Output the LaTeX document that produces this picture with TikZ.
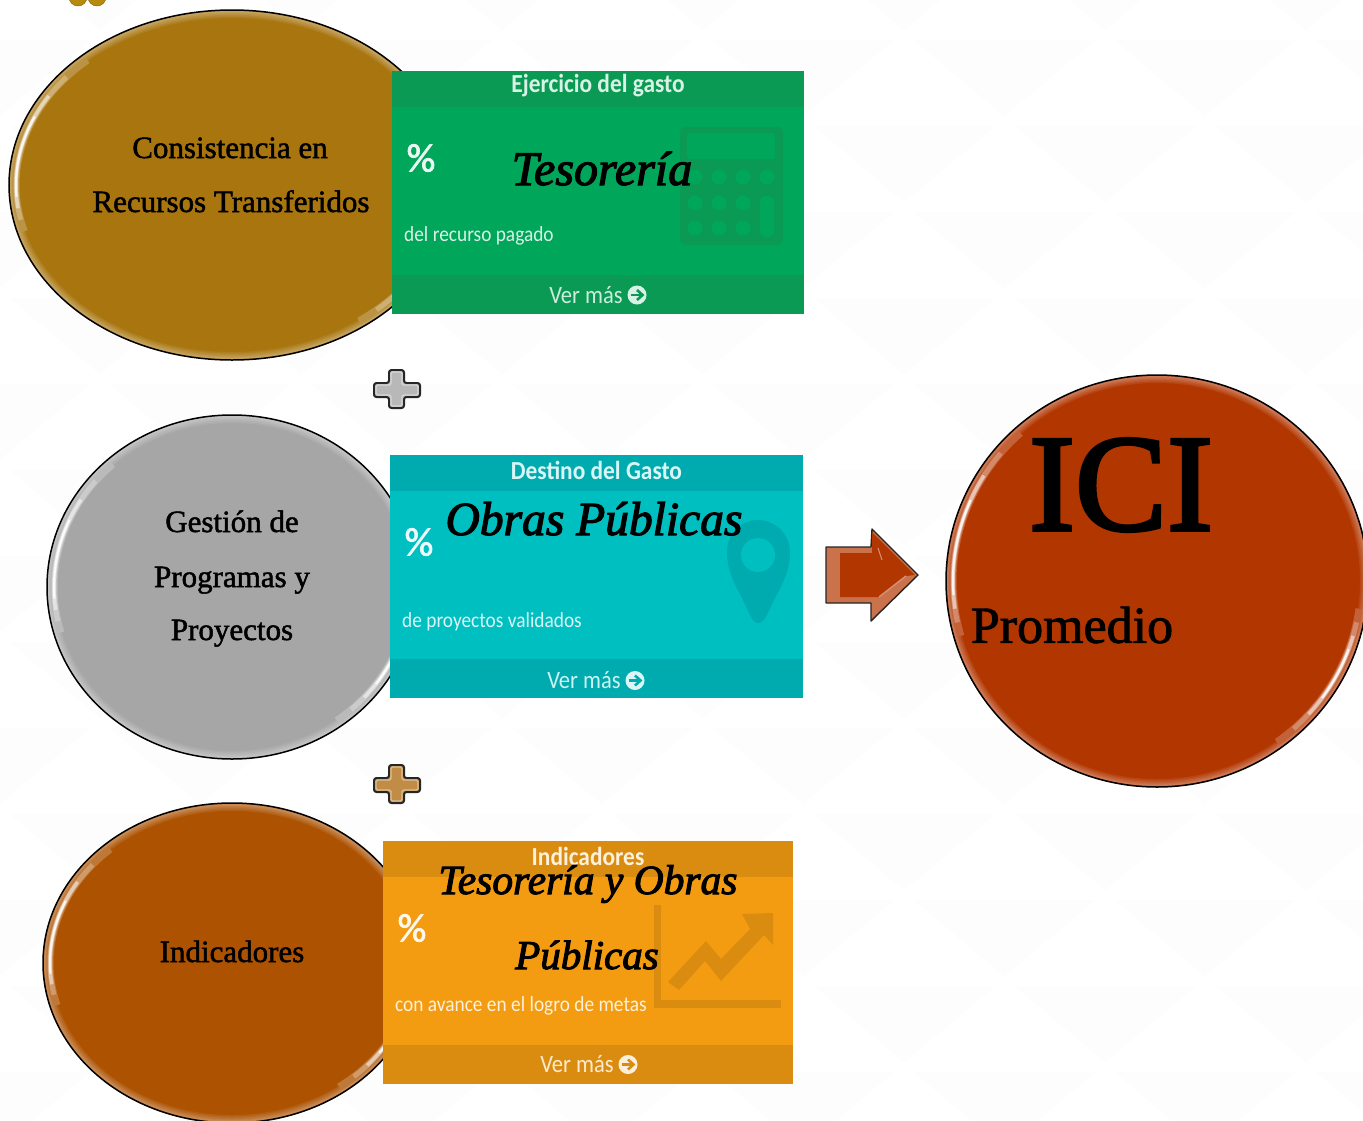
\documentclass[tikz,border=0pt]{standalone}
\usepackage{fontspec}
\setmainfont{Liberation Serif}
\newfontfamily\labelfont[FakeBold=1.6,ItalicFeatures={FakeBold=2.4}]{Liberation Serif}
\newfontfamily\bigfont[FakeBold=2.5]{Liberation Serif}
\newfontfamily\cardfont[FakeStretch=0.9]{Carlito}
\newfontfamily\percentfont[FakeBold=2]{Carlito}
\usetikzlibrary{shapes.geometric}
\definecolor{goldcoin}{HTML}{A8750F}
\definecolor{greycoin}{HTML}{A6A6A6}
\definecolor{browncoin}{HTML}{AC5200}
\definecolor{redcoin}{HTML}{B23600}
\definecolor{greenbody}{HTML}{00A65A}
\definecolor{greendark}{HTML}{0A9A53}
\definecolor{aquabody}{HTML}{00BFC0}
\definecolor{aquadark}{HTML}{00ABAF}
\definecolor{orangebody}{HTML}{F39C12}
\definecolor{orangedark}{HTML}{DA8C10}
\definecolor{backmark}{HTML}{FDFDFD}
\tikzset{
  coin/.style={ellipse, draw=black, line width=1.5pt, inner sep=0pt},
  coinlabel/.style={inner sep=0pt, anchor=base, font=\labelfont\fontsize{31}{31}\selectfont},
  tellerlabel/.style={inner sep=0pt, anchor=base, font=\labelfont\itshape\fontsize{#1}{#1}\selectfont},
  cardtitle/.style={inner sep=0pt, font=\cardfont\bfseries\fontsize{26}{26}\selectfont},
  cardtext/.style={inner sep=0pt, anchor=base west, font=\cardfont\fontsize{21.5}{21.5}\selectfont},
  cardpercent/.style={inner sep=0pt, font=\percentfont\fontsize{40}{40}\selectfont},
  cardmore/.style={inner sep=0pt, font=\cardfont\fontsize{25}{25}\selectfont}
}
% bevel of a coin: soft ring, then two tapered highlights
\newcommand{\coinrim}[4]{
  \begin{scope}
    \clip (#1.center) ellipse [x radius=#2pt, y radius=#3pt];
    \foreach \wide in {14,11,8,5,3} {
      \draw[white, opacity=.08, line width=\wide pt] (#1.center) ellipse [x radius=#2pt, y radius=#3pt];
    }
    \foreach \from/\to/\wide/\tone in {132/196/7/22, 140/192/5/42, 148/188/3.5/70, 156/184/2.2/95,
                                        -54/-8/7/22, -48/-12/5/42, -42/-16/3.5/70, -36/-20/2.2/95} {
      \draw[white!\tone!#4, line width=\wide pt]
        (#1.center) ++(\from:#2pt-6pt and #3pt-6pt)
        arc [start angle=\from, end angle=\to, x radius=#2pt-6pt, y radius=#3pt-6pt];
    }
  \end{scope}
}
\begin{document}
\begin{tikzpicture}[x=1pt, y=-1pt]
  \useasboundingbox (0,0) rectangle (1363,1120);
  \clip (0,0) rectangle (1363,1120);
  \fill[white] (0,0) rectangle (1363,1120);
  % faint triangles of the slide background
  \foreach \row in {-1,...,13} {
    \foreach \col in {-1,...,7} {
      \pgfmathsetmacro{\left}{\col*201 + 10 + 100*mod(\row+1,2)}
      \pgfmathsetmacro{\top}{\row*86 + 40}
      \fill[backmark] (\left,\top) -- (\left+181,\top) -- (\left+90,\top+76) -- cycle;
    }
  }
  % piece of the logo at the top edge
  \fill[goldcoin!85!yellow, draw=goldcoin!80!black] (78,-3) circle (9);
  \fill[goldcoin!85!yellow, draw=goldcoin!80!black] (97,-3) circle (9);
  % coins
  \node[coin, fill=goldcoin, minimum width=446pt, minimum height=350pt] (consistencia) at (232,185) {};
  \coinrim{consistencia}{222}{174}{goldcoin}
  \node[coin, fill=greycoin, minimum width=370pt, minimum height=344pt] (gestion) at (232,587) {};
  \coinrim{gestion}{184}{171}{greycoin}
  \node[coin, fill=browncoin, minimum width=378pt, minimum height=320pt] (indicadores) at (232,963) {};
  \coinrim{indicadores}{188}{159}{browncoin}
  \node[coin, fill=redcoin, minimum width=422pt, minimum height=412pt] (ici) at (1157,581) {};
  \coinrim{ici}{210}{205}{redcoin}
  % cards
  \foreach \name/\xpos/\ypos/\wide/\body/\dark/\heading/\detail/\down in {
    ejercicio/392/71/412/greenbody/greendark/Ejercicio del gasto/del recurso pagado/0,
    destino/390/455/413/aquabody/aquadark/Destino del Gasto/de proyectos validados/1.5,
    logro/383/841/410/orangebody/orangedark/Indicadores/con avance en el logro de metas/-0.5} {
    \begin{scope}[shift={(\xpos,\ypos)}]
      \fill[\body] (0,0) rectangle (\wide,243);
      \fill[\dark] (0,0) rectangle (\wide,36);
      \fill[\dark] (0,204) rectangle (\wide,243);
      \node[cardtitle, text=white!85!\body] (\name title) at (\wide/2,15) {\heading};
      \node[cardpercent, text=white!92!\body] (\name percent) at (29,87) {\%};
      \node[cardtext, text=white!85!\body] (\name detail) at (12,170.5+\down) {\detail};
      \node[cardmore, text=white!80!\body] (\name more) at (194,224+\down) {Ver más};
      \node[circle, fill=white!85!\body, minimum size=19pt, inner sep=0pt] (\name icon) at (245,224+\down) {};
      \draw[\dark, line width=2.6pt] (\name icon.center) ++(-6,0) -- ++(11,0);
      \draw[\dark, line width=2.6pt] (\name icon.center) ++(0,-5) -- ++(5.5,5) -- ++(-5.5,5);
    \end{scope}
  }
  % calculator
  \fill[greendark, rounded corners=6] (680,127) rectangle (783,245);
  \fill[greenbody, rounded corners=3] (687,133) rectangle (775,159);
  \foreach \xpos/\ypos in {695/177,719/177,743/177,767/177,695/203,719/203,743/203,695/228,719/228,743/228} {
    \fill[greenbody] (\xpos,\ypos) circle (7.5);
  }
  \fill[greenbody, rounded corners=6] (760,196) rectangle (774,237);
  % map pin
  \fill[aquadark] (758,623) .. controls (752,623) and (749,612) .. (744,602)
    .. controls (737,588) and (727,573) .. (727,552)
    .. controls (727,534) and (741,520) .. (758,520)
    .. controls (775,520) and (790,534) .. (790,552)
    .. controls (790,573) and (780,588) .. (773,602)
    .. controls (768,612) and (765,623) .. (758,623) -- cycle;
  \fill[aquabody] (758,555) circle (17);
  % rising chart
  \fill[orangedark] (654,905) rectangle (661,1008);
  \fill[orangedark] (654,1000) rectangle (781,1008);
  \fill[orangedark] (668,982) -- (706,941) -- (721,959) -- (750,929) -- (742,914) -- (773,913)
    -- (773,945) -- (764,935) -- (721,981) -- (705,961) -- (679,990) -- cycle;
  % plus signs
  \foreach \name/\ypos/\tone in {plusone/369/B8B8B8, plustwo/764/C08C46} {
    \definecolor{plustone}{HTML}{\tone}
    \draw[shift={(0,\ypos)}, rounded corners=2.5, fill=plustone, draw=black!85, line width=2pt]
      (389,1) -- (404,1) -- (404,14) -- (420,14) -- (420,28) -- (404,28) -- (404,39)
      -- (389,39) -- (389,28) -- (374,28) -- (374,14) -- (389,14) -- cycle;
    \draw[shift={(0,\ypos)}, rounded corners=1.5, draw=white!45!plustone, line width=1.2pt]
      (391,3) -- (402,3) -- (402,16) -- (418,16) -- (418,26) -- (402,26) -- (402,37)
      -- (391,37) -- (391,26) -- (376,26) -- (376,16) -- (391,16) -- cycle;
  }
  % arrow to the result
  \draw[fill=redcoin!70!white, draw=black!85, line width=1.4pt, line join=round]
    (826,547) -- (871,547) -- (872,529) -- (918,575) -- (871,621) -- (871,603) -- (826,603) -- cycle;
  \fill[redcoin] (840,553) -- (872,553) -- (872,532) -- (915,575) -- (906,576) -- (879,597) -- (840,597) -- cycle;
  \draw[white!45!redcoin, line width=1.5pt] (906,576) -- (879,597);
  \draw[white!45!redcoin, line width=1pt] (878,548) -- (882,560);
  % texts
  \node[coinlabel] (lineone) at (230,158) {Consistencia en};
  \node[coinlabel] (linetwo) at (231,212) {Recursos Transferidos};
  \node[coinlabel] (linethree) at (232,532) {Gestión de};
  \node[coinlabel] (linefour) at (232,587) {Programas y};
  \node[coinlabel] (linefive) at (232,640) {Proyectos};
  \node[coinlabel] (linesix) at (232,962) {Indicadores};
  \node[tellerlabel=48] (tesoreria) at (602,185) {Tesorería};
  \node[tellerlabel=47.5] (obras) at (594,535) {Obras Públicas};
  \node[tellerlabel=41.5] (mixedone) at (588,894) {Tesorería y Obras};
  \node[tellerlabel=41] (mixedtwo) at (587,969) {Públicas};
  \node[inner sep=0pt, font=\bigfont\fontsize{138}{138}\selectfont] (icititle) at (1121,485) {ICI};
  \node[inner sep=0pt, font=\labelfont\fontsize{52}{52}\selectfont] (promedio) at (1072,625) {Promedio};
\end{tikzpicture}
\end{document}
